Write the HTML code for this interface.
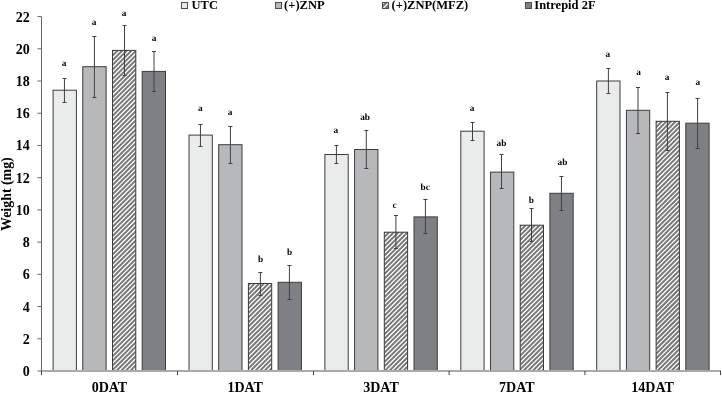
<!DOCTYPE html><html><head><meta charset="utf-8"><style>html,body{margin:0;padding:0;background:#fff;}svg{display:block;will-change:transform;}text{font-family:"Liberation Serif",serif;font-weight:bold;fill:#000;}</style></head><body>
<svg width="722" height="393" viewBox="0 0 722 393">
<defs><pattern id="hatch" patternUnits="userSpaceOnUse" width="3.27" height="3.27" patternTransform="rotate(45) translate(-1.05 0)"><rect width="3.27" height="3.27" fill="#777"/><rect x="0" width="1.3" height="3.27" fill="#ffffff"/></pattern></defs>
<rect x="53.10" y="90.20" width="23.30" height="280.80" fill="#eaeceb" stroke="#3c3c3c" stroke-width="1"/>
<rect x="82.80" y="66.70" width="23.30" height="304.30" fill="#b7b8ba" stroke="#3c3c3c" stroke-width="1"/>
<clipPath id="hc0"><rect x="112.50" y="50.40" width="23.30" height="320.60"/></clipPath>
<rect x="112.50" y="50.40" width="23.30" height="320.60" fill="#777"/>
<path clip-path="url(#hc0)" d="M-217.33 374.00L109.27 47.40M-212.71 374.00L113.89 47.40M-208.08 374.00L118.52 47.40M-203.46 374.00L123.14 47.40M-198.83 374.00L127.77 47.40M-194.21 374.00L132.39 47.40M-189.59 374.00L137.01 47.40M-184.96 374.00L141.64 47.40M-180.34 374.00L146.26 47.40M-175.71 374.00L150.89 47.40M-171.09 374.00L155.51 47.40M-166.46 374.00L160.14 47.40M-161.84 374.00L164.76 47.40M-157.21 374.00L169.39 47.40M-152.59 374.00L174.01 47.40M-147.97 374.00L178.63 47.40M-143.34 374.00L183.26 47.40M-138.72 374.00L187.88 47.40M-134.09 374.00L192.51 47.40M-129.47 374.00L197.13 47.40M-124.84 374.00L201.76 47.40M-120.22 374.00L206.38 47.40M-115.59 374.00L211.01 47.40M-110.97 374.00L215.63 47.40M-106.34 374.00L220.26 47.40M-101.72 374.00L224.88 47.40M-97.10 374.00L229.50 47.40M-92.47 374.00L234.13 47.40M-87.85 374.00L238.75 47.40M-83.22 374.00L243.38 47.40M-78.60 374.00L248.00 47.40M-73.97 374.00L252.63 47.40M-69.35 374.00L257.25 47.40M-64.72 374.00L261.88 47.40M-60.10 374.00L266.50 47.40M-55.48 374.00L271.12 47.40M-50.85 374.00L275.75 47.40M-46.23 374.00L280.37 47.40M-41.60 374.00L285.00 47.40M-36.98 374.00L289.62 47.40M-32.35 374.00L294.25 47.40M-27.73 374.00L298.87 47.40M-23.10 374.00L303.50 47.40M-18.48 374.00L308.12 47.40M-13.85 374.00L312.75 47.40M-9.23 374.00L317.37 47.40M-4.61 374.00L321.99 47.40M0.02 374.00L326.62 47.40M4.64 374.00L331.24 47.40M9.27 374.00L335.87 47.40M13.89 374.00L340.49 47.40M18.52 374.00L345.12 47.40M23.14 374.00L349.74 47.40M27.77 374.00L354.37 47.40M32.39 374.00L358.99 47.40M37.01 374.00L363.61 47.40M41.64 374.00L368.24 47.40M46.26 374.00L372.86 47.40M50.89 374.00L377.49 47.40M55.51 374.00L382.11 47.40M60.14 374.00L386.74 47.40M64.76 374.00L391.36 47.40M69.39 374.00L395.99 47.40M74.01 374.00L400.61 47.40M78.64 374.00L405.24 47.40M83.26 374.00L409.86 47.40M87.88 374.00L414.48 47.40M92.51 374.00L419.11 47.40M97.13 374.00L423.73 47.40M101.76 374.00L428.36 47.40M106.38 374.00L432.98 47.40M111.01 374.00L437.61 47.40M115.63 374.00L442.23 47.40M120.26 374.00L446.86 47.40M124.88 374.00L451.48 47.40M129.50 374.00L456.10 47.40M134.13 374.00L460.73 47.40M138.75 374.00L465.35 47.40" stroke="#fff" stroke-width="1.3" fill="none"/>
<rect x="112.50" y="50.40" width="23.30" height="320.60" fill="none" stroke="#3c3c3c" stroke-width="1"/>
<rect x="142.20" y="71.40" width="23.30" height="299.60" fill="#7f8083" stroke="#3c3c3c" stroke-width="1"/>
<rect x="189.00" y="135.10" width="23.30" height="235.90" fill="#eaeceb" stroke="#3c3c3c" stroke-width="1"/>
<rect x="218.70" y="144.70" width="23.30" height="226.30" fill="#b7b8ba" stroke="#3c3c3c" stroke-width="1"/>
<clipPath id="hc1"><rect x="248.40" y="283.50" width="23.30" height="87.50"/></clipPath>
<rect x="248.40" y="283.50" width="23.30" height="87.50" fill="#777"/>
<path clip-path="url(#hc1)" d="M152.63 374.00L246.13 280.50M157.25 374.00L250.75 280.50M161.88 374.00L255.38 280.50M166.50 374.00L260.00 280.50M171.12 374.00L264.62 280.50M175.75 374.00L269.25 280.50M180.37 374.00L273.87 280.50M185.00 374.00L278.50 280.50M189.62 374.00L283.12 280.50M194.25 374.00L287.75 280.50M198.87 374.00L292.37 280.50M203.50 374.00L297.00 280.50M208.12 374.00L301.62 280.50M212.75 374.00L306.25 280.50M217.37 374.00L310.87 280.50M221.99 374.00L315.49 280.50M226.62 374.00L320.12 280.50M231.24 374.00L324.74 280.50M235.87 374.00L329.37 280.50M240.49 374.00L333.99 280.50M245.12 374.00L338.62 280.50M249.74 374.00L343.24 280.50M254.37 374.00L347.87 280.50M258.99 374.00L352.49 280.50M263.62 374.00L357.12 280.50M268.24 374.00L361.74 280.50M272.86 374.00L366.36 280.50M277.49 374.00L370.99 280.50" stroke="#fff" stroke-width="1.3" fill="none"/>
<rect x="248.40" y="283.50" width="23.30" height="87.50" fill="none" stroke="#3c3c3c" stroke-width="1"/>
<rect x="278.10" y="282.30" width="23.30" height="88.70" fill="#7f8083" stroke="#3c3c3c" stroke-width="1"/>
<rect x="324.90" y="154.50" width="23.30" height="216.50" fill="#eaeceb" stroke="#3c3c3c" stroke-width="1"/>
<rect x="354.60" y="149.50" width="23.30" height="221.50" fill="#b7b8ba" stroke="#3c3c3c" stroke-width="1"/>
<clipPath id="hc2"><rect x="384.30" y="232.20" width="23.30" height="138.80"/></clipPath>
<rect x="384.30" y="232.20" width="23.30" height="138.80" fill="#777"/>
<path clip-path="url(#hc2)" d="M235.87 374.00L380.67 229.20M240.49 374.00L385.29 229.20M245.12 374.00L389.92 229.20M249.74 374.00L394.54 229.20M254.37 374.00L399.17 229.20M258.99 374.00L403.79 229.20M263.62 374.00L408.42 229.20M268.24 374.00L413.04 229.20M272.86 374.00L417.66 229.20M277.49 374.00L422.29 229.20M282.11 374.00L426.91 229.20M286.74 374.00L431.54 229.20M291.36 374.00L436.16 229.20M295.99 374.00L440.79 229.20M300.61 374.00L445.41 229.20M305.24 374.00L450.04 229.20M309.86 374.00L454.66 229.20M314.48 374.00L459.28 229.20M319.11 374.00L463.91 229.20M323.73 374.00L468.53 229.20M328.36 374.00L473.16 229.20M332.98 374.00L477.78 229.20M337.61 374.00L482.41 229.20M342.23 374.00L487.03 229.20M346.86 374.00L491.66 229.20M351.48 374.00L496.28 229.20M356.11 374.00L500.91 229.20M360.73 374.00L505.53 229.20M365.35 374.00L510.15 229.20M369.98 374.00L514.78 229.20M374.60 374.00L519.40 229.20M379.23 374.00L524.03 229.20M383.85 374.00L528.65 229.20M388.48 374.00L533.28 229.20M393.10 374.00L537.90 229.20M397.73 374.00L542.53 229.20M402.35 374.00L547.15 229.20M406.97 374.00L551.77 229.20M411.60 374.00L556.40 229.20" stroke="#fff" stroke-width="1.3" fill="none"/>
<rect x="384.30" y="232.20" width="23.30" height="138.80" fill="none" stroke="#3c3c3c" stroke-width="1"/>
<rect x="414.00" y="216.90" width="23.30" height="154.10" fill="#7f8083" stroke="#3c3c3c" stroke-width="1"/>
<rect x="460.80" y="131.20" width="23.30" height="239.80" fill="#eaeceb" stroke="#3c3c3c" stroke-width="1"/>
<rect x="490.50" y="172.10" width="23.30" height="198.90" fill="#b7b8ba" stroke="#3c3c3c" stroke-width="1"/>
<clipPath id="hc3"><rect x="520.20" y="225.20" width="23.30" height="145.80"/></clipPath>
<rect x="520.20" y="225.20" width="23.30" height="145.80" fill="#777"/>
<path clip-path="url(#hc3)" d="M365.35 374.00L517.15 222.20M369.98 374.00L521.78 222.20M374.60 374.00L526.40 222.20M379.23 374.00L531.03 222.20M383.85 374.00L535.65 222.20M388.48 374.00L540.28 222.20M393.10 374.00L544.90 222.20M397.73 374.00L549.53 222.20M402.35 374.00L554.15 222.20M406.97 374.00L558.77 222.20M411.60 374.00L563.40 222.20M416.22 374.00L568.02 222.20M420.85 374.00L572.65 222.20M425.47 374.00L577.27 222.20M430.10 374.00L581.90 222.20M434.72 374.00L586.52 222.20M439.35 374.00L591.15 222.20M443.97 374.00L595.77 222.20M448.60 374.00L600.39 222.20M453.22 374.00L605.02 222.20M457.84 374.00L609.64 222.20M462.47 374.00L614.27 222.20M467.09 374.00L618.89 222.20M471.72 374.00L623.52 222.20M476.34 374.00L628.14 222.20M480.97 374.00L632.77 222.20M485.59 374.00L637.39 222.20M490.22 374.00L642.02 222.20M494.84 374.00L646.64 222.20M499.46 374.00L651.26 222.20M504.09 374.00L655.89 222.20M508.71 374.00L660.51 222.20M513.34 374.00L665.14 222.20M517.96 374.00L669.76 222.20M522.59 374.00L674.39 222.20M527.21 374.00L679.01 222.20M531.84 374.00L683.64 222.20M536.46 374.00L688.26 222.20M541.09 374.00L692.88 222.20M545.71 374.00L697.51 222.20" stroke="#fff" stroke-width="1.3" fill="none"/>
<rect x="520.20" y="225.20" width="23.30" height="145.80" fill="none" stroke="#3c3c3c" stroke-width="1"/>
<rect x="549.90" y="193.30" width="23.30" height="177.70" fill="#7f8083" stroke="#3c3c3c" stroke-width="1"/>
<rect x="596.70" y="81.00" width="23.30" height="290.00" fill="#eaeceb" stroke="#3c3c3c" stroke-width="1"/>
<rect x="626.40" y="110.30" width="23.30" height="260.70" fill="#b7b8ba" stroke="#3c3c3c" stroke-width="1"/>
<clipPath id="hc4"><rect x="656.10" y="121.30" width="23.30" height="249.70"/></clipPath>
<rect x="656.10" y="121.30" width="23.30" height="249.70" fill="#777"/>
<path clip-path="url(#hc4)" d="M397.73 374.00L653.43 118.30M402.35 374.00L658.05 118.30M406.97 374.00L662.67 118.30M411.60 374.00L667.30 118.30M416.22 374.00L671.92 118.30M420.85 374.00L676.55 118.30M425.47 374.00L681.17 118.30M430.10 374.00L685.80 118.30M434.72 374.00L690.42 118.30M439.35 374.00L695.05 118.30M443.97 374.00L699.67 118.30M448.60 374.00L704.30 118.30M453.22 374.00L708.92 118.30M457.84 374.00L713.54 118.30M462.47 374.00L718.17 118.30M467.09 374.00L722.79 118.30M471.72 374.00L727.42 118.30M476.34 374.00L732.04 118.30M480.97 374.00L736.67 118.30M485.59 374.00L741.29 118.30M490.22 374.00L745.92 118.30M494.84 374.00L750.54 118.30M499.46 374.00L755.16 118.30M504.09 374.00L759.79 118.30M508.71 374.00L764.41 118.30M513.34 374.00L769.04 118.30M517.96 374.00L773.66 118.30M522.59 374.00L778.29 118.30M527.21 374.00L782.91 118.30M531.84 374.00L787.54 118.30M536.46 374.00L792.16 118.30M541.09 374.00L796.79 118.30M545.71 374.00L801.41 118.30M550.33 374.00L806.03 118.30M554.96 374.00L810.66 118.30M559.58 374.00L815.28 118.30M564.21 374.00L819.91 118.30M568.83 374.00L824.53 118.30M573.46 374.00L829.16 118.30M578.08 374.00L833.78 118.30M582.71 374.00L838.41 118.30M587.33 374.00L843.03 118.30M591.95 374.00L847.65 118.30M596.58 374.00L852.28 118.30M601.20 374.00L856.90 118.30M605.83 374.00L861.53 118.30M610.45 374.00L866.15 118.30M615.08 374.00L870.78 118.30M619.70 374.00L875.40 118.30M624.33 374.00L880.03 118.30M628.95 374.00L884.65 118.30M633.58 374.00L889.28 118.30M638.20 374.00L893.90 118.30M642.82 374.00L898.52 118.30M647.45 374.00L903.15 118.30M652.07 374.00L907.77 118.30M656.70 374.00L912.40 118.30M661.32 374.00L917.02 118.30M665.95 374.00L921.65 118.30M670.57 374.00L926.27 118.30M675.20 374.00L930.90 118.30M679.82 374.00L935.52 118.30M684.44 374.00L940.14 118.30" stroke="#fff" stroke-width="1.3" fill="none"/>
<rect x="656.10" y="121.30" width="23.30" height="249.70" fill="none" stroke="#3c3c3c" stroke-width="1"/>
<rect x="685.80" y="123.20" width="23.30" height="247.80" fill="#7f8083" stroke="#3c3c3c" stroke-width="1"/>
<path d="M64.45 78.50V102.50M62.45 78.50H66.45M62.45 102.50H66.45" stroke="#404040" stroke-width="1" fill="none"/>
<text x="64.10" y="65.60" font-size="9.3" text-anchor="middle" text-rendering="geometricPrecision">a</text>
<path d="M94.40 36.50V97.50M92.40 36.50H96.40M92.40 97.50H96.40" stroke="#404040" stroke-width="1" fill="none"/>
<text x="94.05" y="25.00" font-size="9.3" text-anchor="middle" text-rendering="geometricPrecision">a</text>
<path d="M124.50 25.50V75.50M122.50 25.50H126.50M122.50 75.50H126.50" stroke="#404040" stroke-width="1" fill="none"/>
<text x="124.00" y="15.80" font-size="9.3" text-anchor="middle" text-rendering="geometricPrecision">a</text>
<path d="M154.00 51.50V91.50M152.00 51.50H156.00M152.00 91.50H156.00" stroke="#404040" stroke-width="1" fill="none"/>
<text x="154.10" y="41.40" font-size="9.3" text-anchor="middle" text-rendering="geometricPrecision">a</text>
<path d="M200.45 124.50V146.50M198.45 124.50H202.45M198.45 146.50H202.45" stroke="#404040" stroke-width="1" fill="none"/>
<text x="200.30" y="110.70" font-size="9.3" text-anchor="middle" text-rendering="geometricPrecision">a</text>
<path d="M230.40 126.50V163.50M228.40 126.50H232.40M228.40 163.50H232.40" stroke="#404040" stroke-width="1" fill="none"/>
<text x="230.00" y="114.70" font-size="9.3" text-anchor="middle" text-rendering="geometricPrecision">a</text>
<path d="M260.40 272.50V295.50M258.40 272.50H262.40M258.40 295.50H262.40" stroke="#404040" stroke-width="1" fill="none"/>
<text x="260.70" y="261.80" font-size="9.3" text-anchor="middle" text-rendering="geometricPrecision">b</text>
<path d="M289.40 265.50V299.50M287.40 265.50H291.40M287.40 299.50H291.40" stroke="#404040" stroke-width="1" fill="none"/>
<text x="289.50" y="254.80" font-size="9.3" text-anchor="middle" text-rendering="geometricPrecision">b</text>
<path d="M336.40 145.50V163.50M334.40 145.50H338.40M334.40 163.50H338.40" stroke="#404040" stroke-width="1" fill="none"/>
<text x="335.80" y="132.60" font-size="9.3" text-anchor="middle" text-rendering="geometricPrecision">a</text>
<path d="M366.30 130.50V168.50M364.30 130.50H368.30M364.30 168.50H368.30" stroke="#404040" stroke-width="1" fill="none"/>
<text x="365.10" y="120.10" font-size="9.3" text-anchor="middle" text-rendering="geometricPrecision">ab</text>
<path d="M395.90 215.50V248.50M393.90 215.50H397.90M393.90 248.50H397.90" stroke="#404040" stroke-width="1" fill="none"/>
<text x="394.50" y="208.00" font-size="9.3" text-anchor="middle" text-rendering="geometricPrecision">c</text>
<path d="M425.40 199.50V233.50M423.40 199.50H427.40M423.40 233.50H427.40" stroke="#404040" stroke-width="1" fill="none"/>
<text x="425.20" y="190.10" font-size="9.3" text-anchor="middle" text-rendering="geometricPrecision">bc</text>
<path d="M472.50 122.50V140.50M470.50 122.50H474.50M470.50 140.50H474.50" stroke="#404040" stroke-width="1" fill="none"/>
<text x="472.10" y="110.80" font-size="9.3" text-anchor="middle" text-rendering="geometricPrecision">a</text>
<path d="M501.50 154.50V188.50M499.50 154.50H503.50M499.50 188.50H503.50" stroke="#404040" stroke-width="1" fill="none"/>
<text x="501.50" y="145.70" font-size="9.3" text-anchor="middle" text-rendering="geometricPrecision">ab</text>
<path d="M531.50 208.50V241.50M529.50 208.50H533.50M529.50 241.50H533.50" stroke="#404040" stroke-width="1" fill="none"/>
<text x="531.40" y="202.70" font-size="9.3" text-anchor="middle" text-rendering="geometricPrecision">b</text>
<path d="M561.45 176.50V210.50M559.45 176.50H563.45M559.45 210.50H563.45" stroke="#404040" stroke-width="1" fill="none"/>
<text x="562.40" y="165.10" font-size="9.3" text-anchor="middle" text-rendering="geometricPrecision">ab</text>
<path d="M608.40 68.50V93.50M606.40 68.50H610.40M606.40 93.50H610.40" stroke="#404040" stroke-width="1" fill="none"/>
<text x="607.80" y="56.70" font-size="9.3" text-anchor="middle" text-rendering="geometricPrecision">a</text>
<path d="M638.00 87.50V133.50M636.00 87.50H640.00M636.00 133.50H640.00" stroke="#404040" stroke-width="1" fill="none"/>
<text x="638.70" y="74.60" font-size="9.3" text-anchor="middle" text-rendering="geometricPrecision">a</text>
<path d="M667.40 92.50V150.50M665.40 92.50H669.40M665.40 150.50H669.40" stroke="#404040" stroke-width="1" fill="none"/>
<text x="667.20" y="80.10" font-size="9.3" text-anchor="middle" text-rendering="geometricPrecision">a</text>
<path d="M697.60 98.50V148.50M695.60 98.50H699.60M695.60 148.50H699.60" stroke="#404040" stroke-width="1" fill="none"/>
<text x="697.90" y="85.00" font-size="9.3" text-anchor="middle" text-rendering="geometricPrecision">a</text>
<path d="M41.5 371.0H721.0" stroke="#aaa" stroke-width="2" fill="none"/>
<path d="M41.5 16.58V375.0" stroke="#666" stroke-width="1" fill="none"/>
<path d="M37.5 371.00H41.5" stroke="#666" stroke-width="1"/>
<text x="29.8" y="376.00" font-size="14" text-anchor="end">0</text>
<path d="M37.5 338.78H41.5" stroke="#666" stroke-width="1"/>
<text x="29.8" y="343.78" font-size="14" text-anchor="end">2</text>
<path d="M37.5 306.56H41.5" stroke="#666" stroke-width="1"/>
<text x="29.8" y="311.56" font-size="14" text-anchor="end">4</text>
<path d="M37.5 274.34H41.5" stroke="#666" stroke-width="1"/>
<text x="29.8" y="279.34" font-size="14" text-anchor="end">6</text>
<path d="M37.5 242.12H41.5" stroke="#666" stroke-width="1"/>
<text x="29.8" y="247.12" font-size="14" text-anchor="end">8</text>
<path d="M37.5 209.90H41.5" stroke="#666" stroke-width="1"/>
<text x="29.8" y="214.90" font-size="14" text-anchor="end">10</text>
<path d="M37.5 177.68H41.5" stroke="#666" stroke-width="1"/>
<text x="29.8" y="182.68" font-size="14" text-anchor="end">12</text>
<path d="M37.5 145.46H41.5" stroke="#666" stroke-width="1"/>
<text x="29.8" y="150.46" font-size="14" text-anchor="end">14</text>
<path d="M37.5 113.24H41.5" stroke="#666" stroke-width="1"/>
<text x="29.8" y="118.24" font-size="14" text-anchor="end">16</text>
<path d="M37.5 81.02H41.5" stroke="#666" stroke-width="1"/>
<text x="29.8" y="86.02" font-size="14" text-anchor="end">18</text>
<path d="M37.5 48.80H41.5" stroke="#666" stroke-width="1"/>
<text x="29.8" y="53.80" font-size="14" text-anchor="end">20</text>
<path d="M37.5 16.58H41.5" stroke="#666" stroke-width="1"/>
<text x="29.8" y="21.58" font-size="14" text-anchor="end">22</text>
<path d="M41.50 371.0V375.0" stroke="#444" stroke-width="1"/>
<path d="M177.50 371.0V375.0" stroke="#444" stroke-width="1"/>
<path d="M313.50 371.0V375.0" stroke="#444" stroke-width="1"/>
<path d="M449.10 371.0V375.0" stroke="#444" stroke-width="1"/>
<path d="M584.90 371.0V375.0" stroke="#444" stroke-width="1"/>
<path d="M720.50 371.0V375.0" stroke="#444" stroke-width="1"/>
<text x="109.40" y="392.1" font-size="14" text-anchor="middle">0DAT</text>
<text x="245.20" y="392.1" font-size="14" text-anchor="middle">1DAT</text>
<text x="381.00" y="392.1" font-size="14" text-anchor="middle">3DAT</text>
<text x="516.80" y="392.1" font-size="14" text-anchor="middle">7DAT</text>
<text x="652.60" y="392.1" font-size="14" text-anchor="middle">14DAT</text>
<text transform="translate(11.0,194.1) rotate(-90)" font-size="13.9" text-anchor="middle">Weight (mg)</text>
<clipPath id="lbclip"><rect x="383" y="3" width="5" height="5"/></clipPath>
<rect x="181.5" y="2.5" width="6" height="6" fill="#eaeceb" stroke="#4d4d4d" stroke-width="1"/>
<text x="191.6" y="9.3" font-size="12.5">UTC</text>
<rect x="275.5" y="2.5" width="6" height="6" fill="#b7b8ba" stroke="#4d4d4d" stroke-width="1"/>
<text x="284.1" y="9.3" font-size="12.5">(+)ZNP</text>
<rect x="382.5" y="2.5" width="6" height="6" fill="#7a7a7a" stroke="#4d4d4d" stroke-width="1"/>
<g clip-path="url(#lbclip)" stroke="#fff" stroke-width="1.2"><path d="M382 9.5L389.5 2M380.2 6.2L384.2 2.2"/></g>
<text x="391.6" y="9.3" font-size="12.5">(+)ZNP(MFZ)</text>
<rect x="525.5" y="2.5" width="6" height="6" fill="#7f8083" stroke="#4d4d4d" stroke-width="1"/>
<text x="534.3" y="9.3" font-size="12.5">Intrepid 2F</text>
</svg></body></html>
